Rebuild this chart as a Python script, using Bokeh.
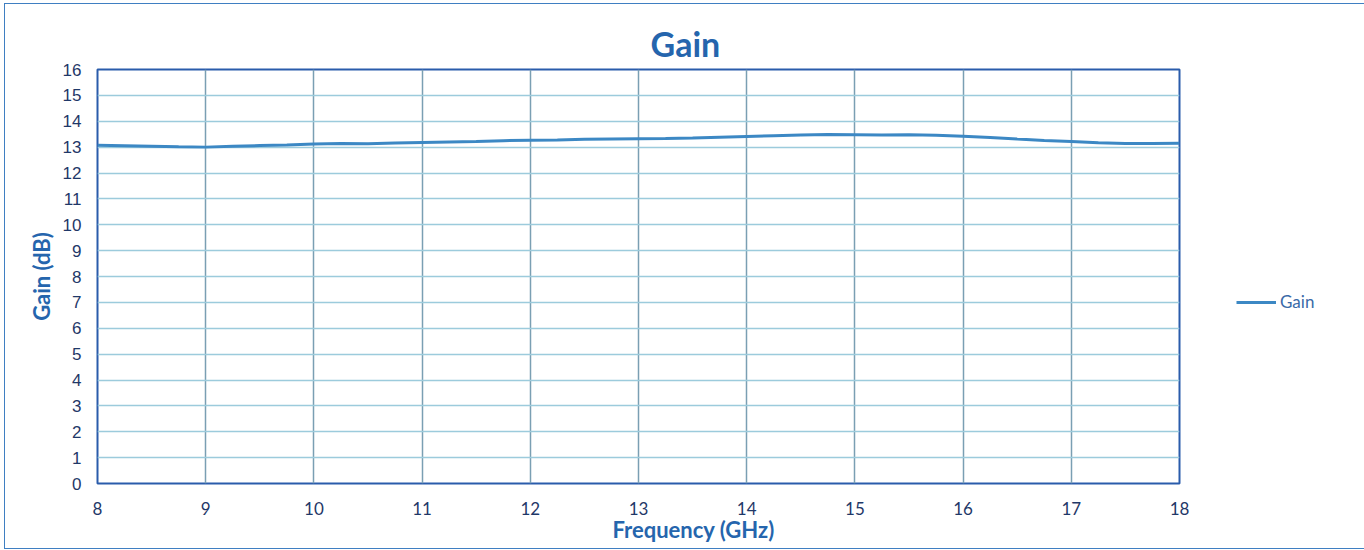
from bokeh.plotting import figure
from bokeh.models import Legend, LegendItem, Range1d, FixedTicker, Title
from bokeh.embed import file_html
from bokeh.resources import INLINE

frequency_ghz = [8.00, 8.25, 8.50, 8.75, 9.00, 9.25, 9.50, 9.75, 10.00, 10.25,
                 10.50, 10.75, 11.00, 11.25, 11.50, 11.75, 12.00, 12.25, 12.50, 12.75,
                 13.00, 13.25, 13.50, 13.75, 14.00, 14.25, 14.50, 14.75, 15.00, 15.25,
                 15.50, 15.75, 16.00, 16.25, 16.50, 16.75, 17.00, 17.25, 17.50, 17.75, 18.00]
gain_db = [13.07, 13.05, 13.03, 13.01, 13.00, 13.03, 13.06, 13.08, 13.12, 13.14,
           13.13, 13.16, 13.18, 13.20, 13.22, 13.25, 13.27, 13.28, 13.30, 13.31,
           13.32, 13.33, 13.35, 13.38, 13.41, 13.44, 13.47, 13.49, 13.48, 13.47,
           13.48, 13.46, 13.42, 13.37, 13.31, 13.26, 13.22, 13.17, 13.14, 13.14, 13.15]
x_ticks = [8, 9, 10, 11, 12, 13, 14, 15, 16, 17, 18]
y_ticks = list(range(0, 17))

TITLE_BLUE = "#2565ad"
AXIS_BLUE = "#2a5cab"
TICK_NAVY = "#1f3868"
LINE_BLUE = "#3c88c4"

p = figure(width=1355, height=544, output_backend="svg", toolbar_location=None,
           x_range=Range1d(8, 18), y_range=Range1d(0, 16),
           frame_width=1082, frame_height=414,
           min_border_left=92, min_border_right=181, min_border_top=65, min_border_bottom=65)

p.title = Title(text="Gain", align="left", offset=553, standoff=12, text_color=TITLE_BLUE,
                text_font="Lato", text_font_size="34px", text_font_style="bold")

p.outline_line_color = AXIS_BLUE
p.outline_line_width = 2
p.outline_line_alpha = 1

p.xaxis.ticker = FixedTicker(ticks=x_ticks)
p.yaxis.ticker = FixedTicker(ticks=y_ticks)
for ax in (p.xaxis[0], p.yaxis[0]):
    ax.axis_line_color = None
    ax.major_tick_line_color = None
    ax.minor_tick_line_color = None
    ax.major_label_text_color = TICK_NAVY
    ax.axis_label_text_color = TITLE_BLUE
    ax.axis_label_text_font = "Lato"
    ax.axis_label_text_font_style = "bold"
    ax.axis_label_text_font_size = "22px"

p.xaxis.major_label_text_font = "Lato"
p.xaxis.major_label_text_font_size = "17px"
p.xaxis.major_label_standoff = 12

x_title = Title(text="Frequency (GHz)", align="left", offset=515, standoff=-8,
                text_color=TITLE_BLUE, text_font="Lato", text_font_size="22px",
                text_font_style="bold")
p.add_layout(x_title, "below")

p.yaxis.axis_label = "Gain (dB)"
p.yaxis.major_label_text_font = "Liberation Sans"
p.yaxis.major_label_text_font_size = "17px"
p.yaxis.major_label_standoff = 10
p.yaxis.axis_label_standoff = 5

p.xgrid.grid_line_color = "#7a9fb3"
p.xgrid.grid_line_width = 1.5
p.ygrid.grid_line_color = "#9ccbdc"
p.ygrid.grid_line_width = 1.5

r = p.line(frequency_ghz, gain_db, line_color=LINE_BLUE, line_width=3)

legend = Legend(items=[LegendItem(label="Gain", renderers=[r])],
                location=(57, 171), orientation="vertical",
                glyph_width=40, glyph_height=20, label_standoff=4,
                padding=0, margin=0, border_line_color=None, background_fill_alpha=0,
                label_text_font="Lato", label_text_font_size="17px", label_text_color="#3a6aa8")
p.add_layout(legend, "right")

p.styles = {"border": "1px solid #3f7fc2", "margin-left": "4px", "margin-top": "3px"}

open("out.html", "w").write(file_html(p, INLINE))
